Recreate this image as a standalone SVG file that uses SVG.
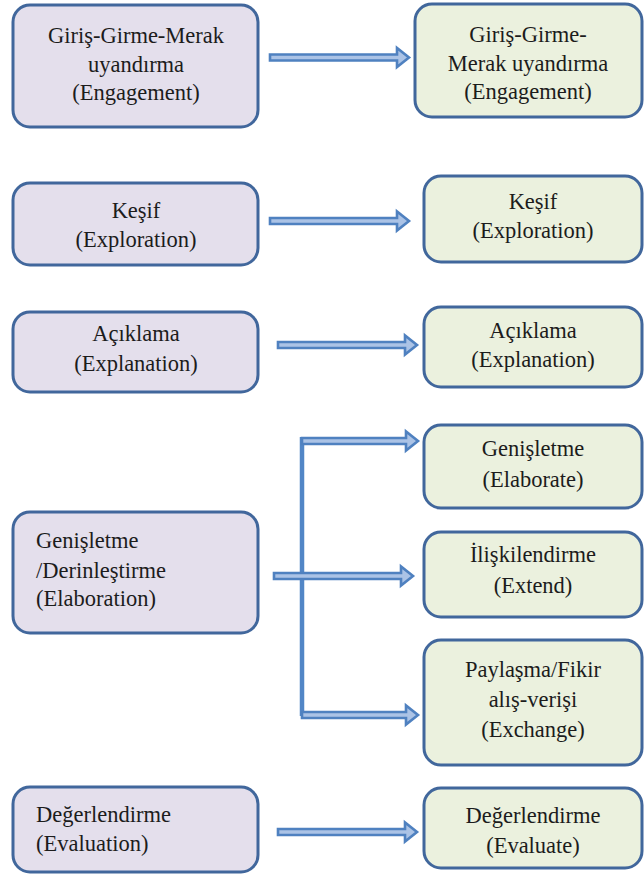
<svg xmlns="http://www.w3.org/2000/svg" width="644" height="880" viewBox="0 0 644 880">
  <defs>
    <style>
      .box { stroke: #41679c; stroke-width: 3; }
      .left { fill: #e4dfec; }
      .right { fill: #ebf1de; }
      .t { font-family: "Liberation Serif", "Noto Serif", "DejaVu Serif", serif; font-size: 22.5px; fill: #1c1c1c; }
      .c { text-anchor: middle; }
      .arrow { fill: #abc3e6; stroke: #4f81c0; stroke-width: 2.6; stroke-linejoin: miter; }
      .trunk { stroke: #5286c6; stroke-width: 4.5; fill: none; }
    </style>
    <!-- block arrow, 140 long, pointing along +x -->
    <path id="arr" d="M0,-3 H127 V-9.5 L139,0 L127,9.5 V3 H0 Z"/>
    <path id="arrShort" d="M0,-3 H104 V-9.5 L116,0 L104,9.5 V3 H0 Z"/>
  </defs>
  <rect width="644" height="880" fill="#ffffff"/>

  <!-- connectors -->
  <g id="connectors">
    <use href="#arr" class="arrow" transform="translate(270,57.5)"/>
    <use href="#arr" class="arrow" transform="translate(270,221)"/>
    <use href="#arr" class="arrow" transform="translate(278,345)"/>
    <line class="trunk" x1="302" y1="437" x2="302" y2="716"/>
    <use href="#arrShort" class="arrow" transform="translate(302,441)"/>
    <use href="#arr" class="arrow" transform="translate(274,576)"/>
    <use href="#arrShort" class="arrow" transform="translate(302,715)"/>
    <use href="#arr" class="arrow" transform="translate(278,832)"/>
  </g>

  <!-- left column -->
  <g id="engagement-left">
    <rect class="box left" x="13" y="5" width="245" height="122" rx="17"/>
    <text class="t c" x="136" y="43">Giriş-Girme-Merak</text>
    <text class="t c" x="136" y="72">uyandırma</text>
    <text class="t c" x="136" y="100">(Engagement)</text>
  </g>
  <g id="exploration-left">
    <rect class="box left" x="13" y="183" width="245" height="82" rx="17"/>
    <text class="t c" x="136" y="218">Keşif</text>
    <text class="t c" x="136" y="247">(Exploration)</text>
  </g>
  <g id="explanation-left">
    <rect class="box left" x="13" y="312" width="245" height="80" rx="17"/>
    <text class="t c" x="136" y="341">Açıklama</text>
    <text class="t c" x="136" y="371">(Explanation)</text>
  </g>
  <g id="elaboration-left">
    <rect class="box left" x="13" y="512" width="245" height="121" rx="17"/>
    <text class="t" x="36" y="548">Genişletme</text>
    <text class="t" x="36" y="578">/Derinleştirme</text>
    <text class="t" x="36" y="606">(Elaboration)</text>
  </g>
  <g id="evaluation-left">
    <rect class="box left" x="13" y="787" width="245" height="85" rx="17"/>
    <text class="t" x="36" y="822">Değerlendirme</text>
    <text class="t" x="36" y="851">(Evaluation)</text>
  </g>

  <!-- right column -->
  <g id="engagement-right">
    <rect class="box right" x="415" y="4" width="227" height="113" rx="17"/>
    <text class="t c" x="528" y="42">Giriş-Girme-</text>
    <text class="t c" x="528" y="71">Merak uyandırma</text>
    <text class="t c" x="528" y="99">(Engagement)</text>
  </g>
  <g id="exploration-right">
    <rect class="box right" x="424" y="176" width="218" height="86" rx="17"/>
    <text class="t c" x="533" y="209">Keşif</text>
    <text class="t c" x="533" y="238">(Exploration)</text>
  </g>
  <g id="explanation-right">
    <rect class="box right" x="424" y="307" width="218" height="80" rx="17"/>
    <text class="t c" x="533" y="338">Açıklama</text>
    <text class="t c" x="533" y="367">(Explanation)</text>
  </g>
  <g id="elaborate-right">
    <rect class="box right" x="424" y="425" width="218" height="83" rx="17"/>
    <text class="t c" x="533" y="456">Genişletme</text>
    <text class="t c" x="533" y="487">(Elaborate)</text>
  </g>
  <g id="extend-right">
    <rect class="box right" x="424" y="532" width="218" height="85" rx="17"/>
    <text class="t c" x="533" y="562">İlişkilendirme</text>
    <text class="t c" x="533" y="593">(Extend)</text>
  </g>
  <g id="exchange-right">
    <rect class="box right" x="424" y="640" width="218" height="125" rx="17"/>
    <text class="t c" x="533" y="677">Paylaşma/Fikir</text>
    <text class="t c" x="533" y="707">alış-verişi</text>
    <text class="t c" x="533" y="737">(Exchange)</text>
  </g>
  <g id="evaluate-right">
    <rect class="box right" x="424" y="788" width="218" height="80" rx="17"/>
    <text class="t c" x="533" y="823">Değerlendirme</text>
    <text class="t c" x="533" y="853">(Evaluate)</text>
  </g>
</svg>
